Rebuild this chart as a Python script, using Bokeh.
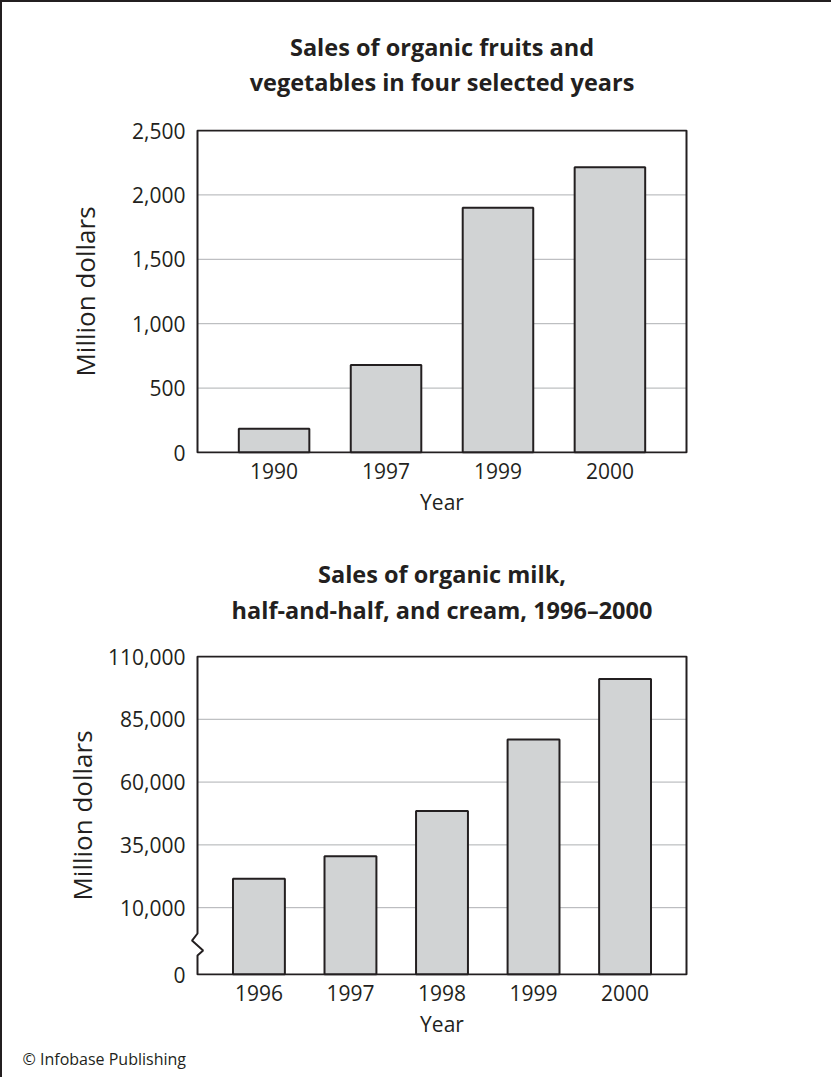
from bokeh.plotting import figure
from bokeh.models import (FactorRange, Range1d, FixedTicker, PolyAnnotation, Label,
                          NumeralTickFormatter)
from bokeh.layouts import column
from bokeh.embed import file_html
from bokeh.resources import INLINE

# ---------------- data ----------------
fv_years = ["1990", "1997", "1999", "2000"]
fv_sales = [185, 680, 1900, 2215]
fv_ticks = [0, 500, 1000, 1500, 2000, 2500]

milk_years = ["1996", "1997", "1998", "1999", "2000"]
milk_sales = [21500, 30500, 48500, 77000, 101000]
milk_ticks = [0, 10000, 35000, 60000, 85000, 110000]
milk_zero_pos = -16600          # where the "0" sits on the broken axis

title1 = ["Sales of organic fruits and", "vegetables in four selected years"]
title2 = ["Sales of organic milk,", "half-and-half, and cream, 1996\u20132000"]
y_label = "Million dollars"
x_label = "Year"
credit = "\u00a9 Infobase Publishing"

# ---------------- style ----------------
FONT = "Open Sans"
INK = "#231f20"
BAR = "#d1d3d4"
GRID = "#aeb0b3"
TICK_FS = "21px"
YLAB_FS = "26px"
XLAB_FS = "21px"
TITLE_FS = "23.5px"
W = 829
VIS_W = 489          # visible chart box width (px)
EXT = 10             # frame extension left/right so the axis-break mark is not clipped
LEFT = 185           # border left of the (extended) frame
TOP = 14             # border above the chart box (room for the top tick label)


def blank(height):
    p = figure(width=W, height=height, output_backend="svg", toolbar_location=None,
               x_range=Range1d(0, W), y_range=Range1d(0, height),
               x_axis_location=None, y_axis_location=None,
               min_border=0, min_border_left=0, min_border_right=0,
               min_border_top=0, min_border_bottom=0, title=None,
               frame_align=False)
    p.grid.visible = False
    p.outline_line_color = None
    return p


def text_strip(lines, height, ys):
    p = blank(height)
    for line, y in zip(lines, ys):
        p.add_layout(Label(x=LEFT + EXT + VIS_W / 2.0, y=y, text=line,
                           text_align="center", text_baseline="middle",
                           text_font=FONT, text_font_style="bold",
                           text_font_size=TITLE_FS, text_color=INK))
    return p


def make_chart(years, sales, ticks, zero_pos, pad, bar_w, height, vis_h,
               b_bottom, ylab_standoff, zig=None):
    n = len(years)
    upx = (n + 2 * pad) / VIS_W                # synthetic units per pixel
    upy = (ticks[-1] - zero_pos) / vis_h       # data units per pixel
    p = figure(width=W, height=height, output_backend="svg", toolbar_location=None,
               title=None,
               x_range=FactorRange(factors=years, range_padding=pad + EXT * upx,
                                   range_padding_units="absolute"),
               y_range=Range1d(zero_pos - upy, ticks[-1] + upy),
               min_border_left=LEFT, min_border_right=W - LEFT - VIS_W - 2 * EXT,
               min_border_top=TOP, min_border_bottom=b_bottom)
    p.outline_line_color = None
    p.background_fill_color = "white"
    p.border_fill_color = "white"
    p.grid.visible = False

    xl = -pad
    xr = n + pad

    tick_pos = [zero_pos] + ticks[1:]
    p.yaxis.ticker = FixedTicker(ticks=tick_pos)
    p.yaxis.formatter = NumeralTickFormatter(format="0,0")
    if zero_pos != 0:
        p.yaxis.major_label_overrides = {zero_pos: "0"}
    p.yaxis.axis_label = y_label
    p.xaxis.axis_label = x_label
    for ax in (p.xaxis, p.yaxis):
        ax.axis_line_color = None
        ax.major_tick_line_color = None
        ax.minor_tick_line_color = None
        ax.major_tick_out = 0
        ax.major_tick_in = 0
        ax.major_label_text_font = FONT
        ax.major_label_text_font_size = TICK_FS
        ax.major_label_text_color = INK
        ax.axis_label_text_font = FONT
        ax.axis_label_text_font_style = "normal"
        ax.axis_label_text_color = INK
    p.yaxis.axis_label_text_font_size = YLAB_FS
    p.xaxis.axis_label_text_font_size = XLAB_FS
    p.yaxis.major_label_standoff = 2
    p.yaxis.axis_label_standoff = ylab_standoff
    p.xaxis.major_label_standoff = 9
    p.xaxis.axis_label_standoff = 6

    # horizontal grid lines inside the box
    gl = tick_pos[1:-1]
    p.segment(x0=[xl] * len(gl), x1=[xr] * len(gl), y0=gl, y1=gl,
              line_color=GRID, line_width=1)

    p.vbar(x=years, top=sales, bottom=zero_pos, width=bar_w,
           fill_color=BAR, line_color=INK, line_width=2)

    # box (with optional axis-break zigzag on the left edge)
    y0, y1 = zero_pos, ticks[-1]
    xs = [xl, xr, xr, xl]
    ys = [y0, y0, y1, y1]
    if zig is not None:
        for zx, zy in zig:
            xs.append(xl + zx * upx)
            ys.append(zy)
    xs.append(xl)
    ys.append(y0)
    p.add_layout(PolyAnnotation(xs=xs, ys=ys,
                                fill_color=None, fill_alpha=0,
                                line_color=INK, line_alpha=1.0, line_width=2))
    return p


t1 = text_strip(title1, 113, [69, 34])
p1 = make_chart(fv_years, fv_sales, fv_ticks, 0, 0.184, 0.63,
                height=413, vis_h=322, b_bottom=75, ylab_standoff=26)

t2 = text_strip(title2, 113, [68, 32])
# zigzag of the axis break: (pixel offset from left edge, data y)
zig = [(0, -280), (-5.5, -3070), (5.6, -7050), (0, -9040)]
p2 = make_chart(milk_years, milk_sales, milk_ticks, milk_zero_pos, 0.171, 0.567,
                height=403, vis_h=318, b_bottom=69, ylab_standoff=5, zig=zig)

foot = blank(33)
foot.add_layout(Label(x=20, y=19, text=credit, text_align="left", text_baseline="middle",
                      text_font=FONT, text_font_size="16px", text_color=INK))

layout = column(t1, p1, t2, p2, foot, spacing=0,
                styles={"border-top": "2px solid #231f20", "border-left": "2px solid #231f20"})

open("out.html", "w").write(file_html(layout, INLINE))
